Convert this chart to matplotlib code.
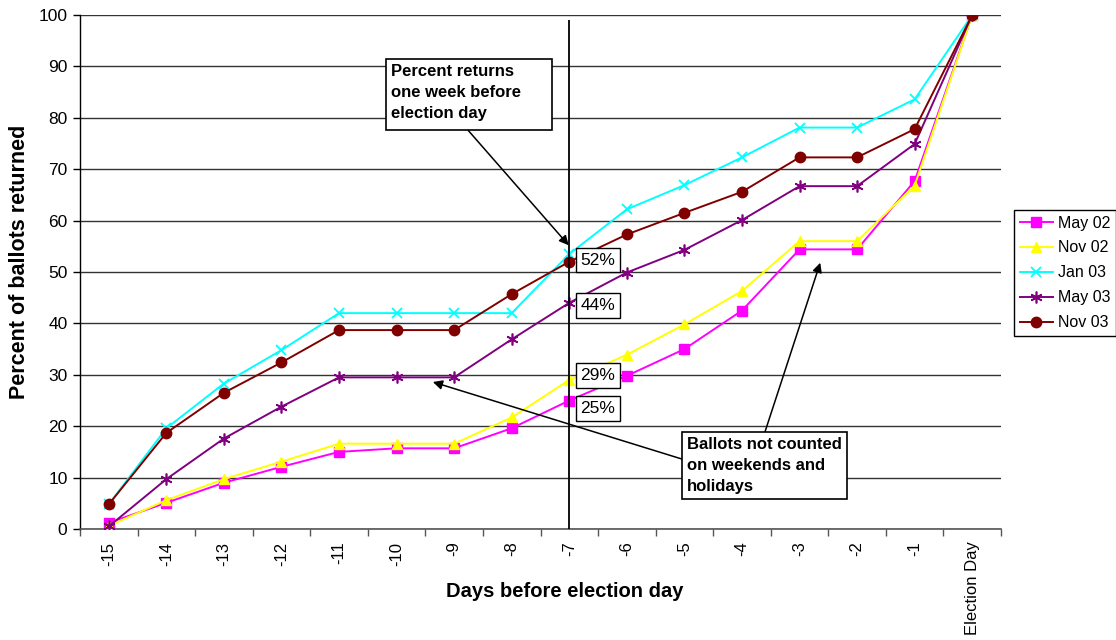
import matplotlib
matplotlib.use("Agg")
import matplotlib.pyplot as plt
from matplotlib.patches import Rectangle

plt.rcParams["font.family"] = ["Liberation Sans", "DejaVu Sans"]

# Days before election (categories) and cumulative percent of ballots returned
days = ["-15", "-14", "-13", "-12", "-11", "-10", "-9", "-8", "-7",
        "-6", "-5", "-4", "-3", "-2", "-1", "Election Day"]

may02 = [1.2, 5.1, 9.0, 12.1, 15.0, 15.7, 15.7, 19.6, 25, 29.8, 35.0, 42.5, 54.4, 54.4, 67.7, 100]
nov02 = [0.6, 5.6, 9.7, 13.1, 16.6, 16.6, 16.6, 21.7, 29, 33.9, 39.8, 46.3, 56.0, 56.0, 66.8, 100]
jan03 = [4.8, 19.6, 28.3, 34.8, 42.0, 42.0, 42.0, 42.0, 53.5, 62.2, 66.9, 72.3, 78.1, 78.1, 83.6, 100]
may03 = [0.5, 9.7, 17.6, 23.8, 29.5, 29.5, 29.5, 36.9, 44, 49.9, 54.3, 60.1, 66.7, 66.7, 74.9, 100]
nov03 = [4.8, 18.7, 26.5, 32.4, 38.7, 38.7, 38.7, 45.7, 52, 57.3, 61.5, 65.6, 72.3, 72.3, 77.8, 100]

series_names = ["May 02", "Nov 02", "Jan 03", "May 03", "Nov 03"]
one_week_day = "-7"

fig = plt.figure(figsize=(11.16, 6.4), dpi=100)
ax = fig.add_axes([80 / 1116, 1 - 529 / 640, 921 / 1116, 514 / 640])

x = list(range(len(days)))
styles = [
    (may02, dict(color="#FF00FF", marker="s", markersize=6.5)),
    (nov02, dict(color="#FFFF00", marker="^", markersize=7.5)),
    (jan03, dict(color="#00FFFF", marker="x", markersize=7.5, markeredgewidth=1.3)),
    (may03, dict(color="#800080", marker=(6, 2, 0), markersize=8.5, markeredgewidth=1.2)),
    (nov03, dict(color="#800000", marker="o", markersize=7.5)),
]
handles = []
for (vals, st), name in zip(styles, series_names):
    h, = ax.plot(x, vals, lw=1.4, label=name, zorder=3, **st)
    handles.append(h)

# Axes limits, grid and ticks
ax.set_xlim(-0.5, len(days) - 0.5)
ax.set_ylim(0, 100)
ax.set_yticks(range(0, 101, 10))
ax.yaxis.grid(True, color="#333333", lw=1.0)
ax.set_axisbelow(True)
for s in ["top", "right"]:
    ax.spines[s].set_visible(False)
ax.spines["left"].set_linewidth(1.0)
ax.spines["bottom"].set_color("#555555")
ax.spines["bottom"].set_linewidth(1.2)

ax.set_xticks(x)
ax.set_xticklabels(days, rotation=90, fontsize=12)
ax.tick_params(axis="x", which="major", length=0, pad=9)
ax.set_xticks([i - 0.5 for i in range(len(days) + 1)], minor=True)
ax.tick_params(axis="x", which="minor", length=5, color="#555555", width=1)
ax.tick_params(axis="y", labelsize=12.5, length=5, width=1, pad=4)

ax.set_xlabel("Days before election day", fontsize=14.5, fontweight="bold")
ax.set_ylabel("Percent of ballots returned", fontsize=15.5, fontweight="bold")
ax.xaxis.set_label_coords(0.526, -0.103)
ax.yaxis.set_label_coords(-0.0543, 0.519)

# One-week marker line
xi = days.index(one_week_day)
ax.vlines(xi, 0, 99, color="black", lw=1.3, zorder=4)

# Value labels at one week before election day
label_offsets = [(may02, -6), (nov02, 3.2), (may03, -2), (nov03, 1.2)]
for vals, dy in label_offsets:
    ax.annotate(f"{vals[xi]:.0f}%", xy=(xi, vals[xi]), xytext=(8, dy),
                textcoords="offset points", ha="left", va="center", fontsize=12.5,
                bbox=dict(boxstyle="square,pad=0.28", fc="white", ec="black", lw=1),
                zorder=6)

# Callout boxes with arrows
def callout(x0, x1, y0, y1, text):
    ax.add_patch(Rectangle((x0, y0), x1 - x0, y1 - y0, fc="white", ec="black",
                           lw=1.2, zorder=6))
    ax.text(x0 + 0.08, y1 - 1.0, text, ha="left", va="top", fontsize=12,
            fontweight="bold", linespacing=1.5, zorder=7)

def arrow(start, tip):
    ax.annotate("", xy=tip, xytext=start,
                arrowprops=dict(arrowstyle="-|>", color="black", lw=1.1,
                                mutation_scale=14, shrinkA=0, shrinkB=0),
                zorder=5)

callout(4.82, 7.70, 77.6, 91.4, "Percent returns\none week before\nelection day")
arrow((6.24, 77.6), (7.99, 55.2))

callout(9.96, 12.83, 5.8, 18.9, "Ballots not counted\non weekends and\nholidays")
arrow((9.96, 13.6), (5.63, 28.6))
arrow((11.40, 18.9), (12.36, 51.8))

# Legend
leg = fig.legend(handles=handles, loc="upper left",
                 bbox_to_anchor=(1014 / 1116, 1 - 210 / 640), fontsize=11.5,
                 frameon=True, fancybox=False, edgecolor="black", framealpha=1,
                 handlelength=2.1, handletextpad=0.3, labelspacing=0.62,
                 borderpad=0.35, borderaxespad=0)
leg.get_frame().set_linewidth(1.0)

fig.savefig("out.png", dpi=100)
